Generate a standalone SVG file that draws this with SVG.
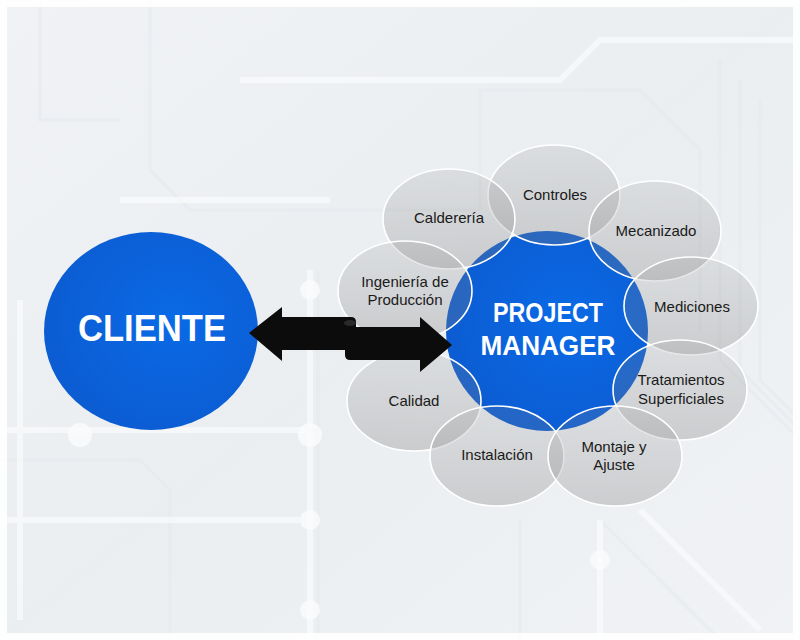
<svg xmlns="http://www.w3.org/2000/svg" width="800" height="640" viewBox="0 0 800 640">
<defs>
<style>
.bgl{fill:none;stroke:#fafbfc;stroke-width:6;opacity:0.7}
.bgd{fill:none;stroke:#e4e8eb;stroke-width:3;opacity:0.5}
.dot{fill:#fafbfc;opacity:0.8}
.sat{fill:url(#satg);stroke:#ffffff;stroke-width:1.6}
.lbl{font-family:"Liberation Sans",Arial,sans-serif;font-size:15px;fill:#1a1a1a;text-anchor:middle}
.big{font-family:"Liberation Sans",Arial,sans-serif;font-weight:bold;fill:#ffffff;text-anchor:middle}
</style>
<linearGradient id="bgg" x1="0" y1="0" x2="1" y2="1">
<stop offset="0" stop-color="#f0f2f5"/>
<stop offset="0.5" stop-color="#ebeef1"/>
<stop offset="1" stop-color="#f0f2f5"/>
</linearGradient>
<linearGradient id="satg" x1="0" y1="0" x2="0" y2="1">
<stop offset="0" stop-color="#8c8c8c" stop-opacity="0.18"/>
<stop offset="1" stop-color="#7a7a7a" stop-opacity="0.3"/>
</linearGradient>
<radialGradient id="blue" cx="0.6" cy="0.45" r="0.6">
<stop offset="0" stop-color="#0a6ae6"/>
<stop offset="1" stop-color="#0c5cd2"/>
</radialGradient>
</defs>

<g id="background">
<rect x="0" y="0" width="800" height="640" fill="url(#bgg)"/>
<path class="bgd" d="M318,270 V640 M318,430 H220 M150,0 V170 L190,210 H480 M480,210 V90 H640 L700,150 V330 M720,60 V360 L800,440 M740,80 V370 L800,430 M760,100 V380 L800,420 M0,460 H140 L170,490 V640 M520,520 V640 M600,520 L720,640 M40,0 V120 H120"/>
<path class="bgl" d="M310,270 V640 M310,430 H0 M0,520 H300 M240,80 H560 L600,40 H800 M600,520 V640 M640,510 L760,630 M120,200 H330 M20,300 V620"/>
<circle class="dot" cx="310" cy="290" r="10"/>
<circle class="dot" cx="310" cy="435" r="12"/>
<circle class="dot" cx="310" cy="520" r="10"/>
<circle class="dot" cx="80" cy="435" r="12"/>
<circle class="dot" cx="600" cy="560" r="10"/>
<circle class="dot" cx="310" cy="610" r="10"/>
<rect x="3" y="3" width="794" height="634" fill="none" stroke="#ffffff" stroke-width="8" opacity="0.9"/>
</g>

<g id="cliente">
<ellipse cx="151" cy="331" rx="107" ry="99" fill="url(#blue)"/>
<text class="big" x="152" y="341" font-size="36" textLength="148" lengthAdjust="spacingAndGlyphs">CLIENTE</text>
</g>

<g id="project-manager">
<ellipse cx="547" cy="331" rx="101" ry="100" fill="url(#blue)"/>
</g>

<g id="controles"><ellipse class="sat" cx="554" cy="195" rx="66" ry="50"/></g>
<g id="caldereria"><ellipse class="sat" cx="449" cy="219" rx="66" ry="50"/></g>
<g id="mecanizado"><ellipse class="sat" cx="655" cy="231" rx="66" ry="50"/></g>
<g id="ingenieria"><ellipse class="sat" cx="405" cy="291" rx="67" ry="50"/></g>
<g id="mediciones"><ellipse class="sat" cx="691" cy="306" rx="67" ry="49"/></g>
<g id="tratamientos"><ellipse class="sat" cx="680" cy="390" rx="67" ry="50"/></g>
<g id="calidad"><ellipse class="sat" cx="414" cy="401" rx="67" ry="50"/></g>
<g id="instalacion"><ellipse class="sat" cx="497" cy="456" rx="67" ry="50"/></g>
<g id="montaje"><ellipse class="sat" cx="615" cy="456" rx="67" ry="50"/></g>

<g id="labels">
<text class="big" x="548" y="322" font-size="28" textLength="110" lengthAdjust="spacingAndGlyphs">PROJECT</text>
<text class="big" x="548" y="355" font-size="28" textLength="135" lengthAdjust="spacingAndGlyphs">MANAGER</text>
<text class="lbl" x="555" y="200">Controles</text>
<text class="lbl" x="449" y="223">Calderería</text>
<text class="lbl" x="656" y="236">Mecanizado</text>
<text class="lbl" x="405" y="287">Ingeniería de</text>
<text class="lbl" x="405" y="305">Producción</text>
<text class="lbl" x="692" y="312">Mediciones</text>
<text class="lbl" x="681" y="385">Tratamientos</text>
<text class="lbl" x="681" y="404">Superficiales</text>
<text class="lbl" x="414" y="406">Calidad</text>
<text class="lbl" x="497" y="460">Instalación</text>
<text class="lbl" x="614" y="452">Montaje y</text>
<text class="lbl" x="614" y="470">Ajuste</text>
</g>

<g id="connectors">
<path d="M249,333 L282,307 L282,317 L351,317 Q356,317 356,322 L356,327 L420,327 L420,317 L452,345 L420,372 L420,360 L350,360 Q345,360 345,355 L345,350 L282,350 L282,361 Z" fill="#0c0c0c"/>
<ellipse cx="350" cy="323" rx="6" ry="3" fill="#2a2a2a"/>
</g>
</svg>
